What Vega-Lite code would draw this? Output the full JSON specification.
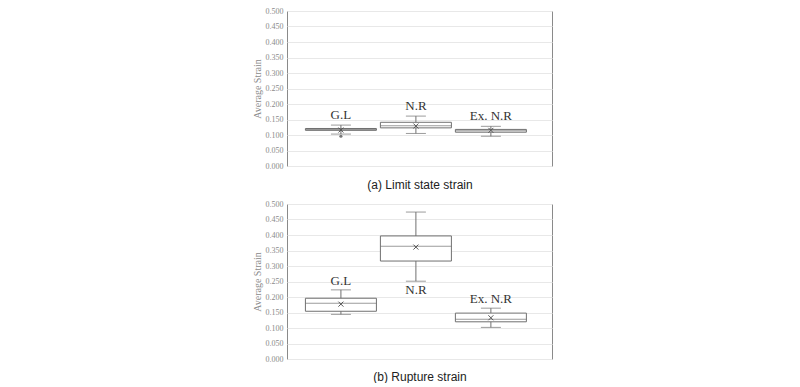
{
  "$schema": "https://vega.github.io/schema/vega-lite/v6.json",
  "padding": {"left": 251, "top": 6, "right": 5, "bottom": 0},
  "background": "white",
  "config": {
    "view": {"stroke": "#8a8a8a", "strokeWidth": 1},
    "axisY": {
      "labelFont": "Liberation Serif", "labelFontSize": 8, "labelColor": "#8a8a8a", "labelOverlap": false,
      "titleFont": "Liberation Serif", "titleFontSize": 10, "titleColor": "#8a8a8a", "titleFontWeight": "normal",
      "ticks": false, "domain": false, "labelPadding": 4, "titlePadding": 3, "tickCount": 11,
      "grid": true, "gridColor": "#e8e8e8"
    },
    "axisX": {
      "labels": false, "ticks": false, "domain": false, "grid": false,
      "titleFont": "Liberation Sans", "titleFontSize": 12, "titleFontWeight": "normal", "titleColor": "#222"
    }
  },
  "spacing": 8,
  "datasets": {
    "boxes": [
      {"panel": "a", "group": "G.L", "lower": 0.103, "q1": 0.115, "median": 0.118, "q3": 0.121, "upper": 0.132, "mean": 0.116},
      {"panel": "a", "group": "N.R", "lower": 0.105, "q1": 0.123, "median": 0.130, "q3": 0.141, "upper": 0.161, "mean": 0.129},
      {"panel": "a", "group": "Ex. N.R", "lower": 0.096, "q1": 0.109, "median": 0.114, "q3": 0.118, "upper": 0.128, "mean": 0.115},
      {"panel": "b", "group": "G.L", "lower": 0.144, "q1": 0.154, "median": 0.180, "q3": 0.196, "upper": 0.223, "mean": 0.177},
      {"panel": "b", "group": "N.R", "lower": 0.251, "q1": 0.316, "median": 0.364, "q3": 0.397, "upper": 0.474, "mean": 0.361},
      {"panel": "b", "group": "Ex. N.R", "lower": 0.102, "q1": 0.120, "median": 0.128, "q3": 0.148, "upper": 0.164, "mean": 0.133}
    ],
    "outliers": [
      {"panel": "a", "group": "G.L", "value": 0.096}
    ]
  },
  "data": {"name": "boxes"},
  "vconcat": [
    {
      "width": 265, "height": 155,
      "transform": [{"filter": "datum.panel == 'a'"}],
      "encoding": {
        "x": {"field": "group", "type": "nominal", "title": "(a) Limit state strain",
              "scale": {"domain": ["G.L", "N.R", "Ex. N.R"], "paddingInner": 0, "paddingOuter": 0.267, "align": 0.41},
              "axis": {"titlePadding": 13}}
      },
      "layer": [
        {"mark": {"type": "rule", "color": "#707070", "strokeWidth": 1},
         "encoding": {"y": {"field": "lower", "type": "quantitative", "title": "Average Strain",
                            "scale": {"domain": [0, 0.5], "nice": false},
                            "axis": {"values": [0, 0.05, 0.1, 0.15, 0.2, 0.25, 0.3, 0.35, 0.4, 0.45, 0.5], "format": ".3f", "tickCount": 11}},
                      "y2": {"field": "upper"}}},
        {"mark": {"type": "bar", "size": 71, "fill": "white", "stroke": "#707070", "strokeWidth": 1},
         "encoding": {"y": {"field": "q1", "type": "quantitative"}, "y2": {"field": "q3"}}},
        {"mark": {"type": "tick", "size": 71, "thickness": 1, "color": "#707070"},
         "encoding": {"y": {"field": "median", "type": "quantitative"}}},
        {"mark": {"type": "tick", "size": 20, "thickness": 1, "color": "#707070"},
         "encoding": {"y": {"field": "lower", "type": "quantitative"}}},
        {"mark": {"type": "tick", "size": 20, "thickness": 1, "color": "#707070"},
         "encoding": {"y": {"field": "upper", "type": "quantitative"}}},
        {"mark": {"type": "point", "shape": "M-1,-1L1,1M1,-1L-1,1", "filled": false, "stroke": "#555", "strokeWidth": 1, "size": 25, "opacity": 1},
         "encoding": {"y": {"field": "mean", "type": "quantitative"}}},
        {"data": {"name": "outliers"},
         "mark": {"type": "point", "shape": "circle", "filled": true, "color": "#777", "size": 10, "opacity": 1},
         "encoding": {"y": {"field": "value", "type": "quantitative"}}},
        {"mark": {"type": "text", "font": "Liberation Serif", "fontSize": 13, "fontWeight": "normal", "color": "#333", "baseline": "middle", "dy": -10},
         "encoding": {"y": {"field": "upper", "type": "quantitative"}, "text": {"field": "group"}}}
      ]
    },
    {
      "width": 265, "height": 155,
      "transform": [{"filter": "datum.panel == 'b'"}],
      "encoding": {
        "x": {"field": "group", "type": "nominal", "title": "(b) Rupture strain",
              "scale": {"domain": ["G.L", "N.R", "Ex. N.R"], "paddingInner": 0, "paddingOuter": 0.267, "align": 0.41},
              "axis": {"titlePadding": 12}}
      },
      "layer": [
        {"mark": {"type": "rule", "color": "#707070", "strokeWidth": 1},
         "encoding": {"y": {"field": "lower", "type": "quantitative", "title": "Average Strain",
                            "scale": {"domain": [0, 0.5], "nice": false},
                            "axis": {"values": [0, 0.05, 0.1, 0.15, 0.2, 0.25, 0.3, 0.35, 0.4, 0.45, 0.5], "format": ".3f", "tickCount": 11}},
                      "y2": {"field": "upper"}}},
        {"mark": {"type": "bar", "size": 71, "fill": "white", "stroke": "#707070", "strokeWidth": 1},
         "encoding": {"y": {"field": "q1", "type": "quantitative"}, "y2": {"field": "q3"}}},
        {"mark": {"type": "tick", "size": 71, "thickness": 1, "color": "#707070"},
         "encoding": {"y": {"field": "median", "type": "quantitative"}}},
        {"mark": {"type": "tick", "size": 20, "thickness": 1, "color": "#707070"},
         "encoding": {"y": {"field": "lower", "type": "quantitative"}}},
        {"mark": {"type": "tick", "size": 20, "thickness": 1, "color": "#707070"},
         "encoding": {"y": {"field": "upper", "type": "quantitative"}}},
        {"mark": {"type": "point", "shape": "M-1,-1L1,1M1,-1L-1,1", "filled": false, "stroke": "#555", "strokeWidth": 1, "size": 25, "opacity": 1},
         "encoding": {"y": {"field": "mean", "type": "quantitative"}}},
        {"transform": [{"filter": "datum.group != 'N.R'"}],
         "mark": {"type": "text", "font": "Liberation Serif", "fontSize": 13, "fontWeight": "normal", "color": "#333", "baseline": "middle", "dy": -9},
         "encoding": {"y": {"field": "upper", "type": "quantitative"}, "text": {"field": "group"}}},
        {"transform": [{"filter": "datum.group == 'N.R'"}],
         "mark": {"type": "text", "font": "Liberation Serif", "fontSize": 13, "fontWeight": "normal", "color": "#333", "baseline": "middle", "dy": 9},
         "encoding": {"y": {"field": "lower", "type": "quantitative"}, "text": {"field": "group"}}}
      ]
    }
  ]
}
